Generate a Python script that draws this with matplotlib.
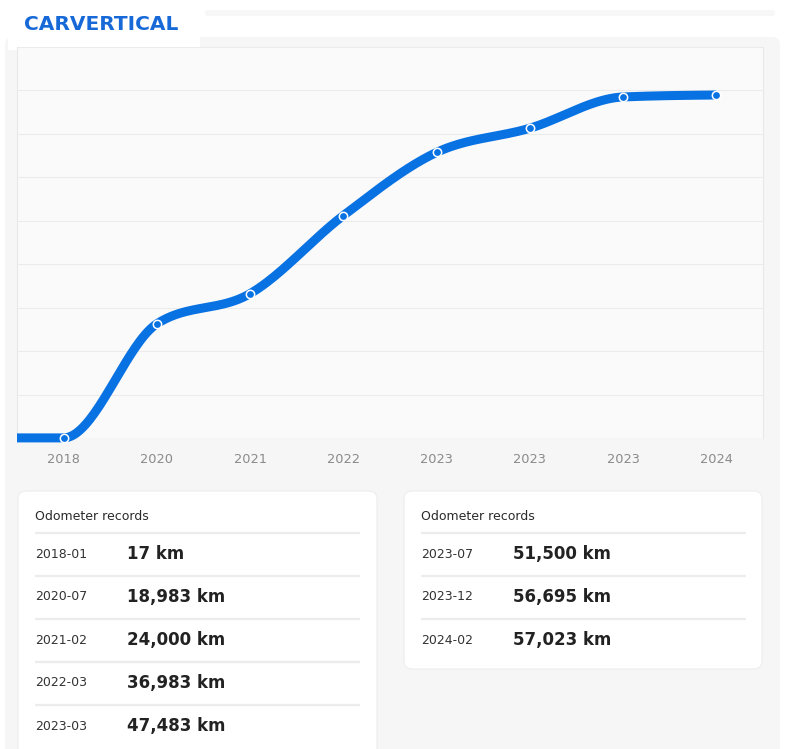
import numpy as np
import matplotlib
matplotlib.use("Agg")
import matplotlib.pyplot as plt
from matplotlib.patches import FancyBboxPatch, Rectangle

# ---- data ----
x_labels = ["2018", "2020", "2021", "2022", "2023", "2023", "2023", "2024"]
record_dates = ["2018-01", "2020-07", "2021-02", "2022-03", "2023-03",
                "2023-07", "2023-12", "2024-02"]
odometer_km = [17, 18983, 24000, 36983, 47483, 51500, 56695, 57023]
y_max = 65000
n_grid = 10

BLUE = "#0872e3"
W, H = 800, 749


def monotone_x(xs, ys, n=40):
    """d3 curveMonotoneX style interpolation (Steffen slopes)."""
    xs = np.asarray(xs, float)
    ys = np.asarray(ys, float)
    m = len(xs)
    h = np.diff(xs)
    s = np.diff(ys) / h
    t = np.zeros(m)
    for i in range(1, m - 1):
        s0, s1 = s[i - 1], s[i]
        p = (s0 * h[i] + s1 * h[i - 1]) / (h[i - 1] + h[i])
        t[i] = (np.sign(s0) + np.sign(s1)) * min(abs(s0), abs(s1), 0.5 * abs(p))
    t[0] = (3 * s[0] - t[1]) / 2
    t[-1] = (3 * s[-1] - t[-2]) / 2
    out_x, out_y = [], []
    for i in range(m - 1):
        u = np.linspace(0, 1, n)
        h00 = 2 * u**3 - 3 * u**2 + 1
        h10 = u**3 - 2 * u**2 + u
        h01 = -2 * u**3 + 3 * u**2
        h11 = u**3 - u**2
        out_x.append(xs[i] + u * h[i])
        out_y.append(h00 * ys[i] + h10 * h[i] * t[i] + h01 * ys[i + 1] + h11 * h[i] * t[i + 1])
    return np.concatenate(out_x), np.concatenate(out_y)


fig = plt.figure(figsize=(W / 100, H / 100), dpi=100)
fig.patch.set_facecolor("white")

# background / layout axes in pixel coordinates
bg = fig.add_axes([0, 0, 1, 1])
bg.set_xlim(0, W)
bg.set_ylim(H, 0)
bg.axis("off")
bg.set_zorder(0)

# faint top strip
bg.add_patch(FancyBboxPatch((205, 10), 570, 6, boxstyle="round,pad=0,rounding_size=3",
                            fc="#f7f7f7", ec="none"))
# main gray panel
bg.add_patch(FancyBboxPatch((5, 37), 775, 760, boxstyle="round,pad=0,rounding_size=8",
                            fc="#f6f6f6", ec="none"))
# logo box
bg.add_patch(Rectangle((8, 8), 192, 42, fc="white", ec="none"))
bg.text(24, 25, "CARVERTICAL", fontsize=14.5, fontweight="bold", family="DejaVu Sans",
        color="#1769d8", va="center", ha="left")

# cards
rows_per_card = 5
cards = [(18, 491, 359, 300), (404, 491, 358, 178)]
for ci, (cx, cy, cw, ch) in enumerate(cards):
    bg.add_patch(FancyBboxPatch((cx, cy), cw, ch, boxstyle="round,pad=0,rounding_size=8",
                                fc="white", ec="#ededed", lw=0.8))
    bg.text(cx + 17, 516, "Odometer records", fontsize=9, color="#2a2a2a",
            va="center", ha="left", family="DejaVu Sans")
    start = ci * rows_per_card
    recs = list(zip(record_dates, odometer_km))[start:start + rows_per_card]
    for ri, (d, v) in enumerate(recs):
        ly = 533 + ri * 43
        bg.plot([cx + 17, cx + 342], [ly, ly], color="#ececec", lw=1.6,
                solid_capstyle="butt")
        ry = 554 + ri * 43
        bg.text(cx + 17, ry, d, fontsize=9, color="#333333", va="center", ha="left")
        bg.text(cx + 109, ry, f"{v:,} km", fontsize=12, fontweight="bold",
                color="#222222", va="center", ha="left")

# chart axes
left, right, top, bottom = 17, 763, 47, 438
ax = fig.add_axes([left / W, 1 - bottom / H, (right - left) / W, (bottom - top) / H])
ax.set_zorder(1)
ax.set_facecolor("#fafafa")
n = len(odometer_km)
xs = np.arange(n)
ax.set_xlim(-0.5, n - 0.5)
ax.set_ylim(0, y_max)

for gy in np.linspace(0, y_max, n_grid):
    ax.axhline(gy, color="#ebebeb", lw=0.8, zorder=0)

# curve, padded with a flat lead-in from the left edge
cx_, cy_ = monotone_x(np.r_[-0.5, xs], np.r_[odometer_km[0], odometer_km])
ax.plot(cx_, cy_, color=BLUE, lw=6.5, solid_capstyle="butt", zorder=3, clip_on=False)
ax.plot(xs, odometer_km, "o", ms=6, mfc=BLUE, mec="white", mew=1.1, zorder=4,
        clip_on=False)

for sp in ["top", "bottom"]:
    ax.spines[sp].set_visible(False)
for sp in ["left", "right"]:
    ax.spines[sp].set_color("#e8e8e8")
    ax.spines[sp].set_linewidth(0.8)
ax.set_yticks([])
ax.set_xticks(xs)
ax.set_xticklabels(x_labels, fontsize=9.3, color="#8a8a8a")
ax.tick_params(axis="x", length=0, pad=11)

fig.savefig("out.png", dpi=100, facecolor=fig.get_facecolor())
